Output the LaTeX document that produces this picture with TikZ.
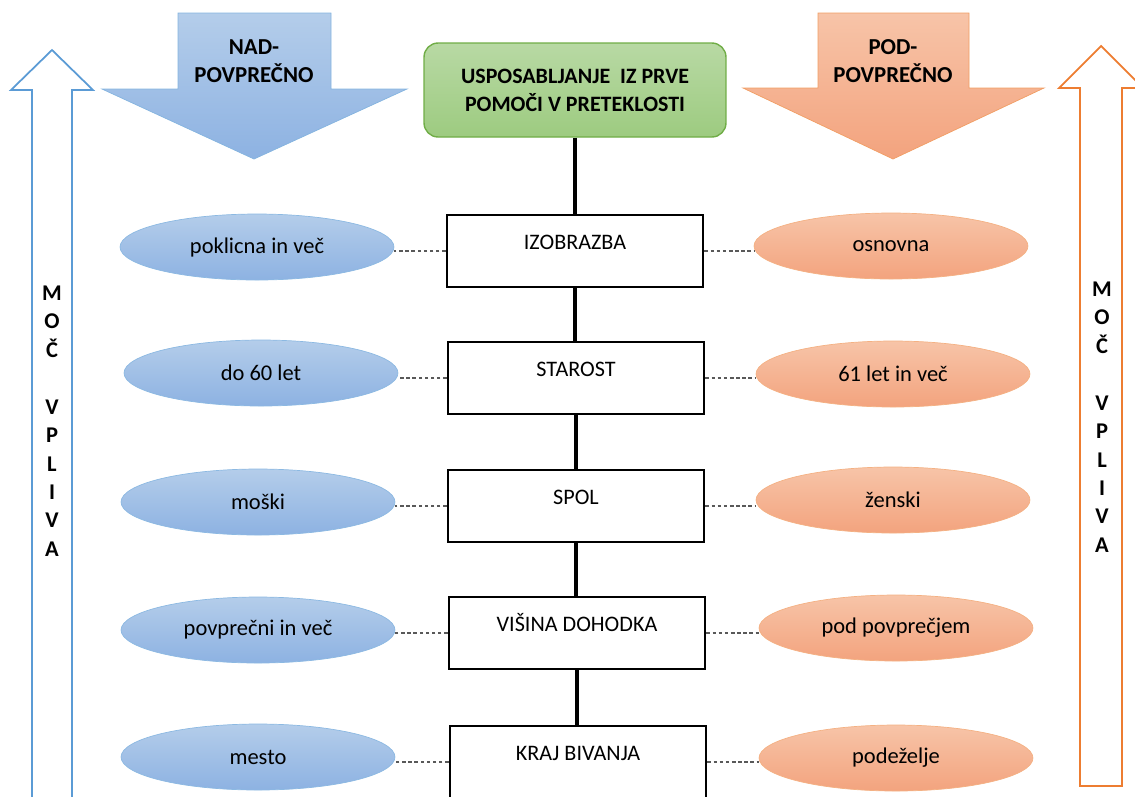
\documentclass[tikz,border=0pt]{standalone}
\usepackage{fontspec}
\setmainfont{Carlito}
\usetikzlibrary{shapes.geometric}

\definecolor{modra}{HTML}{5B9BD5}
\definecolor{modraT}{HTML}{B4CDEA}
\definecolor{modraB}{HTML}{8DB2E2}
\definecolor{oranzna}{HTML}{ED7D31}
\definecolor{oranznaT}{HTML}{F7C4A8}
\definecolor{oranznaB}{HTML}{F3A37E}
\definecolor{zelena}{HTML}{70AD47}
\definecolor{zelenaT}{HTML}{B8D9A4}
\definecolor{zelenaB}{HTML}{9DCB80}

\begin{document}
\begin{tikzpicture}[x=0.02cm, y=-0.02cm,
    faktor/.style={draw=black, line width=1.6pt, fill=white, minimum width=5.12cm,
        inner ysep=0pt, text height=19.5pt, text depth=21.5pt,
        font=\fontsize{12.6}{14}\selectfont},
    nadell/.style={ellipse, draw=modra!70, top color=modraT, bottom color=modraB,
        minimum width=5.48cm, minimum height=1.32cm, font=\fontsize{12.8}{14}\selectfont},
    podell/.style={ellipse, draw=oranzna!60, top color=oranznaT, bottom color=oranznaB,
        minimum width=5.48cm, minimum height=1.32cm, font=\fontsize{12.8}{14}\selectfont},
    vez/.style={draw=black!65, line width=0.6pt, dash pattern=on 2pt off 1.5pt},
    os/.style={line width=1.8pt},
    napis/.style={align=center, font=\bfseries\fontsize{13}{15.9}\selectfont},
    moc/.style={align=center, font=\bfseries\fontsize{12.8}{16.2}\selectfont}]
    \clip (0, 0) rectangle (1135, 796);
    % hollow arrows at the sides
    \draw[modra, line width=1pt, fill=white] (52, 50) -- (11, 90) -- (32, 90) -- (32, 830)
        -- (72, 830) -- (72, 90) -- (93, 90) -- cycle;
    \draw[oranzna, line width=1pt, fill=white] (1101, 46) -- (1059, 88) -- (1080, 88) -- (1080, 786)
        -- (1122, 786) -- (1122, 88) -- (1143, 88) -- cycle;
    \node[moc] (mocL) at (52, 421) {M\\O\\Č\\ \\V\\P\\L\\I\\V\\A};
    \node[moc] (mocR) at (1102, 417) {M\\O\\Č\\ \\V\\P\\L\\I\\V\\A};
    % block arrows
    \draw[modra!75, top color=modraT, bottom color=modraB] (178, 13) -- (331, 13) -- (331, 89)
        -- (407, 89) -- (254, 159) -- (102, 89) -- (178, 89) -- cycle;
    \draw[oranzna!75, top color=oranznaT, bottom color=oranznaB] (818, 13) -- (969, 13) -- (969, 88)
        -- (1044, 88) -- (893, 159) -- (743, 88) -- (818, 88) -- cycle;
    \node[napis] (nad) at (254, 61) {NAD-\\POVPREČNO};
    \node[napis] (pod) at (893, 61) {POD-\\POVPREČNO};
    % centre column
    \node[draw=zelena, line width=0.8pt, rounded corners=8pt, top color=zelenaT, bottom color=zelenaB,
        minimum width=6.04cm, minimum height=1.88cm, align=center,
        font=\bfseries\fontsize{12.5}{15.9}\selectfont] (usp) at (575, 90)
        {USPOSABLJANJE\ \ IZ PRVE\\POMOČI V PRETEKLOSTI};
    \node[faktor] (izo) at (575, 251) {IZOBRAZBA};
    \node[faktor] (sta) at (576, 378) {STAROST};
    \node[faktor] (spo) at (576, 506) {SPOL};
    \node[faktor] (vis) at (577, 633) {VIŠINA DOHODKA};
    \node[faktor] (kra) at (578, 762) {KRAJ BIVANJA};
    \draw[os] (usp.south) -- (izo.north);
    \draw[os] (izo.south) -- (izo.south |- sta.north);
    \draw[os] (sta.south) -- (sta.south |- spo.north);
    \draw[os] (spo.south) -- (spo.south |- vis.north);
    \draw[os] (vis.south) -- (vis.south |- kra.north);
    % left ellipses
    \node[nadell] (izoL) at (257, 247) {poklicna in več};
    \node[nadell] (staL) at (261, 373) {do 60 let};
    \node[nadell] (spoL) at (258, 502) {moški};
    \node[nadell] (visL) at (258, 630) {povprečni in več};
    \node[nadell] (kraL) at (258, 757) {mesto};
    % right ellipses
    \node[podell] (izoR) at (891, 246) {osnovna};
    \node[podell] (staR) at (893, 374) {61 let in več};
    \node[podell] (spoR) at (893, 500) {ženski};
    \node[podell] (visR) at (896, 628) {pod povprečjem};
    \node[podell] (kraR) at (896, 758) {podeželje};
    % dashed links
    \foreach \f in {izo, sta, spo, vis, kra} {
        \draw[vez] (\f.west) -- (\f.west -| \f L.east);
        \draw[vez] (\f.east) -- (\f.east -| \f R.west);
    }
\end{tikzpicture}
\end{document}
